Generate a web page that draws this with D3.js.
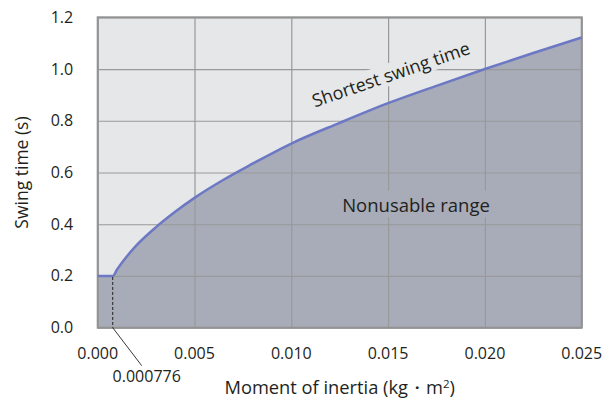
<!DOCTYPE html>
<html>
<head>
<meta charset="utf-8">
<script src="https://cdn.jsdelivr.net/npm/d3@7"></script>
<style>
  body { margin: 0; background: #fff; }
  text { font-family: "Open Sans", sans-serif; fill: #231f20; }
</style>
</head>
<body>
<svg id="chart" width="611" height="409"></svg>
<script>
// Values.
var inertia = [0, 0.000776, 0.001, 0.0015, 0.002, 0.003, 0.004, 0.005, 0.0065, 0.008,
               0.010, 0.0125, 0.015, 0.0175, 0.020, 0.0225, 0.025];
var swingTime = [0.2, 0.2, 0.225, 0.275, 0.318, 0.388, 0.448, 0.502, 0.572, 0.634,
                 0.712, 0.792, 0.868, 0.935, 1.0, 1.062, 1.122];
var xTicks = [0, 0.005, 0.010, 0.015, 0.020, 0.025];
var yTicks = [0, 0.2, 0.4, 0.6, 0.8, 1.0, 1.2];
var markValue = 0.000776;

var points = inertia.map(function(d, i) { return { x: d, y: swingTime[i] }; });

var svg = d3.select('#chart');
var margin = { top: 17.3, right: 29.3, bottom: 81.3, left: 97.7 };
var width = +svg.attr('width') - margin.left - margin.right;
var height = +svg.attr('height') - margin.top - margin.bottom;

var x = d3.scaleLinear().domain([0, 0.025]).range([0, width]);
var y = d3.scaleLinear().domain([0, 1.2]).range([height, 0]);

var g = svg.append('g')
  .attr('transform', 'translate(' + margin.left + ',' + margin.top + ')');

// Light background (usable range).
g.append('rect')
  .attr('width', width)
  .attr('height', height)
  .attr('fill', '#e6e7e9');

// Nonusable range, the area under the curve.
var area = d3.area()
  .x(function(d) { return x(d.x); })
  .y0(y(0))
  .y1(function(d) { return y(d.y); })
  .curve(d3.curveMonotoneX);

g.append('path')
  .datum(points)
  .attr('d', area)
  .attr('fill', '#a7acb8');

// Gridlines.
g.append('g')
  .attr('transform', 'translate(0,' + height + ')')
  .call(d3.axisBottom(x).tickValues(xTicks).tickSize(-height).tickFormat(''))
  .call(function(s) {
    s.select('.domain').remove();
    s.selectAll('line').attr('stroke', '#999999').attr('stroke-width', 1.2);
  });

g.append('g')
  .call(d3.axisLeft(y).tickValues(yTicks).tickSize(-width).tickFormat(''))
  .call(function(s) {
    s.select('.domain').remove();
    s.selectAll('line').attr('stroke', '#999999').attr('stroke-width', 1.2);
  });

// Label "Shortest swing time", on a light box that hides the grid.
var topLabel = g.append('g')
  .attr('transform', 'translate(' + (393 - margin.left) + ',' + (80.5 - margin.top) + ') rotate(-19)');
topLabel.append('rect')
  .attr('x', -90).attr('y', -18)
  .attr('width', 180).attr('height', 22)
  .attr('fill', '#e6e7e9');
topLabel.append('text')
  .attr('text-anchor', 'middle')
  .attr('font-size', 18)
  .text('Shortest swing time');

// Label "Nonusable range", on a dark box that hides the grid.
var lowLabel = g.append('g')
  .attr('transform', 'translate(' + (416 - margin.left) + ',' + (211.5 - margin.top) + ')');
lowLabel.append('rect')
  .attr('x', -80).attr('y', -21)
  .attr('width', 160).attr('height', 27)
  .attr('fill', '#a7acb8');
lowLabel.append('text')
  .attr('text-anchor', 'middle')
  .attr('font-size', 18.5)
  .text('Nonusable range');

// Frame.
g.append('rect')
  .attr('width', width)
  .attr('height', height)
  .attr('fill', 'none')
  .attr('stroke', '#939393')
  .attr('stroke-width', 2);

// The curve.
var line = d3.line()
  .x(function(d) { return x(d.x); })
  .y(function(d) { return y(d.y); })
  .curve(d3.curveMonotoneX);

g.append('path')
  .datum(points)
  .attr('d', line)
  .attr('fill', 'none')
  .attr('stroke', '#6c78c4')
  .attr('stroke-width', 2.5);

// Dashed marker at the knee, plus leader to its label.
g.append('line')
  .attr('x1', x(markValue)).attr('x2', x(markValue))
  .attr('y1', y(0.2) + 1).attr('y2', y(0))
  .attr('stroke', '#231f20')
  .attr('stroke-width', 1)
  .attr('stroke-dasharray', '3,2');

g.append('line')
  .attr('x1', x(markValue)).attr('y1', y(0))
  .attr('x2', x(markValue) + 29).attr('y2', y(0) + 38)
  .attr('stroke', '#231f20')
  .attr('stroke-width', 0.9);

g.append('text')
  .attr('x', x(markValue) + 34)
  .attr('y', height + 54.5)
  .attr('text-anchor', 'middle')
  .attr('font-size', 16)
  .text('0.000776');

// Tick labels.
g.selectAll('.xlab')
  .data(xTicks)
  .enter().append('text')
    .attr('class', 'xlab')
    .attr('x', function(d) { return x(d); })
    .attr('y', height + 31.5)
    .attr('text-anchor', 'middle')
    .attr('font-size', 16)
    .text(d3.format('.3f'));

g.selectAll('.ylab')
  .data(yTicks)
  .enter().append('text')
    .attr('class', 'ylab')
    .attr('x', -24.5)
    .attr('y', function(d) { return y(d) + 5.5; })
    .attr('text-anchor', 'end')
    .attr('font-size', 16)
    .text(d3.format('.1f'));

// Axis titles.
g.append('text')
  .attr('transform', 'translate(-70,' + (height / 2) + ') rotate(-90)')
  .attr('text-anchor', 'middle')
  .attr('font-size', 17.5)
  .text('Swing time (s)');

var xt = g.append('text')
  .attr('x', width / 2)
  .attr('y', height + 66.5)
  .attr('text-anchor', 'middle')
  .attr('font-size', 18.3);
xt.append('tspan').text('Moment of inertia (kg\u30FBm');
xt.append('tspan').attr('font-size', 11.5).attr('dy', -6.5).text('2');
xt.append('tspan').attr('dy', 6.5).text(')');
</script>
</body>
</html>
